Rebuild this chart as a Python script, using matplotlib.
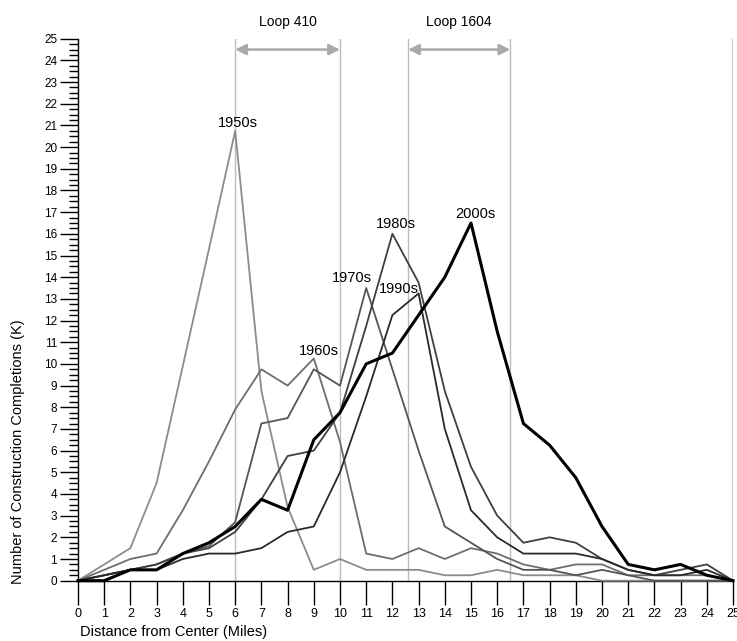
import numpy as np
import matplotlib
matplotlib.use('Agg')
import matplotlib.pyplot as plt
from matplotlib.ticker import MultipleLocator

plt.rcParams['font.family'] = ['Liberation Sans', 'DejaVu Sans']

# --- dados (milhares de conclusoes por milha) ---
miles = list(range(26))
y1950s = [0, 0.75, 1.5, 4.5, 9.9, 15.3, 20.75, 8.75, 3.4, 0.5, 1.0, 0.5, 0.5, 0.5, 0.25, 0.25,
          0.5, 0.25, 0.25, 0.25, 0, 0, 0, 0, 0, 0]
y1960s = [0, 0.5, 1.0, 1.25, 3.25, 5.5, 7.9, 9.75, 9.0, 10.25, 6.4, 1.25, 1.0, 1.5, 1.0, 1.5,
          1.25, 0.75, 0.5, 0.75, 0.75, 0.25, 0.25, 0.25, 0.25, 0]
y1970s = [0, 0.25, 0.5, 0.75, 1.25, 1.6, 2.7, 7.25, 7.5, 9.75, 9.0, 13.5, 9.75, 6.0, 2.5, 1.75,
          1.0, 0.5, 0.5, 0.25, 0.5, 0.25, 0, 0, 0, 0]
y1980s = [0, 0.25, 0.5, 0.75, 1.25, 1.5, 2.25, 3.75, 5.75, 6.0, 7.75, 11.75, 16.0, 13.75, 8.75, 5.25,
          3.0, 1.75, 2.0, 1.75, 1.0, 0.5, 0.25, 0.5, 0.75, 0]
y1990s = [0, 0.25, 0.5, 0.5, 1.0, 1.25, 1.25, 1.5, 2.25, 2.5, 5.0, 8.5, 12.25, 13.25, 7.0, 3.25,
          2.0, 1.25, 1.25, 1.25, 1.0, 0.5, 0.25, 0.25, 0.5, 0]
y2000s = [0, 0, 0.5, 0.5, 1.25, 1.75, 2.5, 3.75, 3.25, 6.5, 7.75, 10.0, 10.5, 12.25, 14.0, 16.5,
          11.5, 7.25, 6.25, 4.75, 2.5, 0.75, 0.5, 0.75, 0.25, 0]

decades = ['1950s', '1960s', '1970s', '1980s', '1990s', '2000s']
series = [y1950s, y1960s, y1970s, y1980s, y1990s, y2000s]
colors = ['#8c8c8c', '#6e6e6e', '#555555', '#3f3f3f', '#2a2a2a', '#000000']
widths = [1.3, 1.3, 1.3, 1.3, 1.3, 2.2]
label_pos = [(6.1, 20.95), (9.2, 10.4), (10.45, 13.8), (12.15, 16.25), (12.25, 13.25), (15.15, 16.75)]

loops = ['Loop 410', 'Loop 1604']
loop_bounds = [(6, 10), (12.6, 16.5)]

# --- figura ---
fig = plt.figure(figsize=(7.37, 6.41), dpi=100)
ax = fig.add_axes([0.1058, 0.0941, 0.8888, 0.8455])

for a, b in loop_bounds:
    for xv in (a, b):
        ax.axvline(xv, color='#bbbbbb', lw=1, zorder=1)
ax.axvline(25, color='#bbbbbb', lw=1.2, zorder=1)

for name, (a, b) in zip(loops, loop_bounds):
    ax.annotate('', xy=(a, 24.5), xytext=(b, 24.5),
                arrowprops=dict(arrowstyle='<|-|>', color='#aaaaaa', lw=1.8,
                                mutation_scale=16, shrinkA=0, shrinkB=0))
    ax.text((a + b) / 2, 25.78, name, ha='center', va='center', fontsize=10, clip_on=False)

for ys, c, w in zip(series, colors, widths):
    ax.plot(miles, ys, color=c, lw=w, clip_on=False, zorder=3)

for name, (tx, ty) in zip(decades, label_pos):
    ax.text(tx, ty, name, ha='center', va='baseline', fontsize=10.5, zorder=4)

ax.set_xlim(0, 25)
ax.set_ylim(0, 25)
ax.set_xticks(miles)
ax.set_yticks(range(26))
ax.yaxis.set_minor_locator(MultipleLocator(0.25))

for s in ['top', 'right']:
    ax.spines[s].set_visible(False)
ax.spines['left'].set_linewidth(1)
ax.spines['bottom'].set_linewidth(1)

ax.tick_params(axis='x', direction='out', length=17, width=1, pad=3, labelsize=9)
ax.tick_params(axis='y', which='major', direction='out', length=13, width=1, pad=2, labelsize=8.5)
ax.tick_params(axis='y', which='minor', direction='out', length=6.5, width=1)

fig.text(80 / 737, (641 - 632) / 641, 'Distance from Center (Miles)', ha='left', va='center', fontsize=10.5)
fig.text(18 / 737, (641 - 584) / 641, 'Number of Construction Completions (K)',
         rotation=90, ha='center', va='bottom', fontsize=10.5)

fig.savefig('out.png', dpi=100)
